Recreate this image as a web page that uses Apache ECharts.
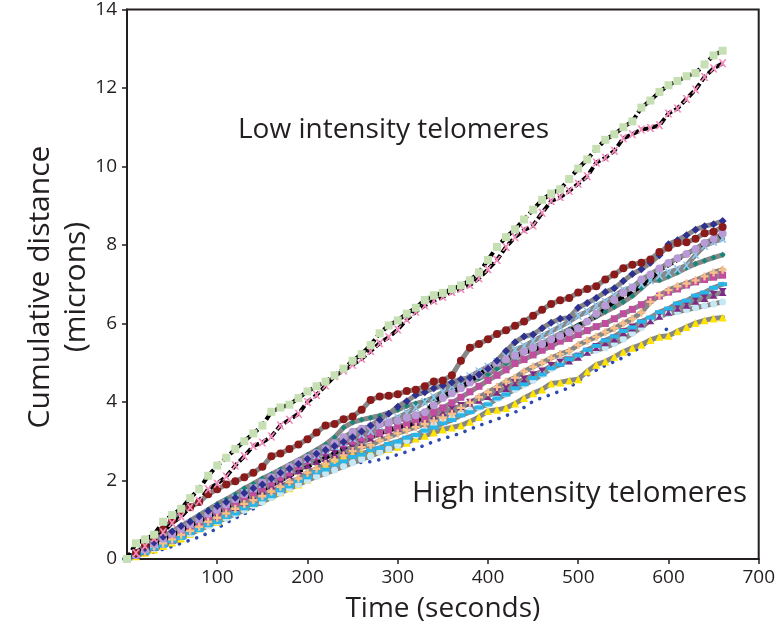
<!DOCTYPE html>
<html>
<head>
<meta charset="utf-8">
<script src="https://cdn.jsdelivr.net/npm/echarts@6/dist/echarts.min.js"></script>
<style>
html,body{margin:0;padding:0;background:#fff;}
#chart{width:778px;height:636px;}
</style>
</head>
<body>
<div id="chart"></div>
<script>
// Time points (seconds)
const times = [0,10,20,30,40,50,60,70,80,90,100,110,120,130,140,150,160,170,180,190,200,210,220,230,240,250,260,270,280,290,300,310,320,330,340,350,360,370,380,390,400,410,420,430,440,450,460,470,480,490,500,510,520,530,540,550,560,570,580,590,600,610,620,630,640,650,660];

// Low intensity telomeres
const lowGreen = [0,0.4,0.5,0.62,0.95,1.12,1.28,1.55,1.78,2.12,2.38,2.58,2.8,3.0,3.2,3.4,3.75,3.86,3.93,4.1,4.27,4.4,4.52,4.68,4.85,5.05,5.22,5.45,5.75,5.95,6.08,6.25,6.4,6.6,6.72,6.78,6.88,6.97,7.1,7.3,7.62,7.95,8.2,8.4,8.65,8.9,9.15,9.31,9.42,9.68,9.95,10.18,10.45,10.68,10.82,11.0,11.15,11.5,11.68,11.9,12.07,12.18,12.3,12.38,12.6,12.83,12.95];
const lowPink = [0,0.15,0.33,0.52,0.68,0.92,1.08,1.32,1.48,1.78,1.92,2.1,2.38,2.62,2.88,2.97,3.12,3.4,3.55,3.7,4.0,4.18,4.42,4.66,4.8,4.95,5.1,5.3,5.5,5.65,5.85,6.1,6.3,6.46,6.58,6.68,6.8,6.88,6.98,7.15,7.38,7.62,7.95,8.2,8.38,8.5,8.82,9.12,9.22,9.38,9.56,9.75,10.1,10.22,10.4,10.72,10.82,10.94,10.98,11.05,11.35,11.48,11.72,11.96,12.28,12.5,12.63];

// High intensity telomeres
const hiRed = [0,0.15,0.35,0.55,0.75,0.98,1.22,1.32,1.45,1.65,1.78,1.9,1.98,2.08,2.2,2.35,2.62,2.69,2.8,2.92,3.05,3.22,3.4,3.44,3.56,3.63,3.8,4.05,4.14,4.16,4.2,4.28,4.31,4.4,4.52,4.55,4.68,5.05,5.38,5.48,5.6,5.73,5.83,5.94,6.05,6.2,6.35,6.5,6.59,6.65,6.79,6.88,6.95,7.12,7.25,7.41,7.5,7.55,7.63,7.82,7.93,8.05,8.07,8.16,8.3,8.34,8.46];
const hiNavy = [0,0.12,0.28,0.42,0.57,0.7,0.84,0.95,1.08,1.22,1.35,1.45,1.56,1.68,1.8,1.9,2.05,2.2,2.3,2.42,2.55,2.68,2.78,2.88,2.98,3.1,3.25,3.4,3.55,3.7,3.88,4.02,4.18,4.25,4.35,4.42,4.5,4.58,4.62,4.7,4.85,5.05,5.3,5.52,5.67,5.72,5.88,6.02,6.12,6.15,6.4,6.52,6.65,6.8,6.9,7.08,7.26,7.38,7.55,7.74,8.02,8.12,8.25,8.39,8.48,8.53,8.61];
const hiLilac = [0,0.1,0.25,0.38,0.52,0.65,0.78,0.9,1.02,1.15,1.25,1.38,1.52,1.65,1.8,1.95,2.08,2.2,2.35,2.48,2.58,2.7,2.82,2.95,3.1,3.24,3.32,3.38,3.44,3.48,3.52,3.6,3.66,3.74,3.92,4.1,4.22,4.35,4.5,4.68,4.85,5.0,5.08,5.18,5.28,5.38,5.48,5.6,5.68,5.78,5.88,6.05,6.25,6.45,6.6,6.78,6.92,7.12,7.25,7.4,7.54,7.66,7.77,7.9,8.05,8.15,8.29];
const hiBlack = [0,0.1,0.22,0.35,0.48,0.6,0.72,0.85,0.96,1.08,1.2,1.32,1.42,1.55,1.65,1.75,1.88,2.0,2.12,2.22,2.35,2.45,2.58,2.7,2.82,2.95,3.05,3.12,3.2,3.28,3.35,3.4,3.45,3.72,4.0,4.15,4.25,4.38,4.52,4.7,4.85,5.0,5.1,5.18,5.25,5.32,5.42,5.52,5.64,5.8,5.96,6.08,6.17,6.38,6.55,6.68,6.8,6.95,7.12,7.36,7.48,7.62,7.76,7.9,8.02,8.13,8.25];
const hiSkyX = [0,0.12,0.25,0.38,0.52,0.65,0.78,0.9,1.02,1.18,1.3,1.42,1.55,1.68,1.8,1.92,2.05,2.18,2.3,2.45,2.55,2.65,2.78,2.88,2.98,3.08,3.18,3.26,3.4,3.5,3.6,3.72,3.86,4.0,4.12,4.25,4.4,4.52,4.65,4.78,4.9,5.02,5.15,5.33,5.42,5.55,5.68,5.8,5.92,6.05,6.2,6.3,6.45,6.55,6.7,6.85,6.92,7.0,7.1,7.22,7.3,7.38,7.48,7.75,7.98,8.08,8.16];
const hiTeal = [0,0.14,0.28,0.42,0.56,0.7,0.84,0.98,1.12,1.26,1.4,1.52,1.65,1.8,1.92,2.05,2.16,2.28,2.4,2.52,2.65,2.78,2.92,3.1,3.35,3.48,3.55,3.6,3.65,3.72,3.8,3.9,3.96,4.02,4.1,4.2,4.3,4.4,4.5,4.6,4.7,4.85,4.98,5.12,5.26,5.4,5.5,5.62,5.74,5.85,5.95,6.05,6.18,6.3,6.42,6.55,6.7,6.9,7.1,7.1,7.2,7.3,7.42,7.52,7.6,7.68,7.75];
const hiPeach = [0,0.1,0.2,0.32,0.4,0.5,0.62,0.72,0.82,0.95,1.05,1.16,1.28,1.4,1.5,1.6,1.72,1.84,1.96,2.05,2.2,2.3,2.42,2.52,2.64,2.75,2.85,2.9,3.02,3.1,3.2,3.28,3.36,3.44,3.52,3.6,3.7,3.85,3.98,4.12,4.25,4.38,4.52,4.62,4.78,4.9,5.0,5.12,5.22,5.3,5.45,5.56,5.66,5.78,5.88,6.0,6.12,6.28,6.55,6.72,6.85,6.95,7.02,7.1,7.2,7.3,7.37];
const hiMagenta = [0,0.12,0.24,0.38,0.48,0.6,0.72,0.84,0.93,1.08,1.2,1.32,1.44,1.58,1.68,1.8,1.94,2.08,2.2,2.36,2.5,2.62,2.75,2.88,2.94,3.0,3.08,3.16,3.22,3.28,3.35,3.44,3.54,3.6,3.74,3.85,3.98,4.12,4.26,4.4,4.55,4.68,4.82,4.98,5.08,5.2,5.32,5.42,5.55,5.62,5.72,5.82,5.92,6.0,6.12,6.25,6.36,6.48,6.6,6.7,6.8,6.88,6.98,7.06,7.12,7.18,7.23];
const hiCyan = [0,0.09,0.16,0.27,0.35,0.46,0.54,0.66,0.74,0.86,0.94,1.07,1.16,1.29,1.38,1.52,1.6,1.75,1.85,1.99,2.08,2.21,2.28,2.41,2.49,2.6,2.66,2.77,2.83,2.93,2.99,3.09,3.16,3.27,3.35,3.46,3.54,3.66,3.74,3.86,3.94,4.09,4.19,4.35,4.45,4.61,4.7,4.86,4.95,5.09,5.19,5.33,5.43,5.57,5.67,5.81,5.9,6.05,6.15,6.29,6.38,6.51,6.58,6.71,6.79,6.91,7.0];
const hiPurple = [0,0.1,0.2,0.31,0.4,0.5,0.62,0.72,0.84,0.94,1.05,1.2,1.32,1.46,1.6,1.75,1.88,2.0,2.14,2.26,2.4,2.5,2.58,2.68,2.76,2.85,2.96,3.08,3.2,3.28,3.35,3.44,3.5,3.58,3.66,3.75,3.82,3.9,3.98,4.06,4.15,4.26,4.35,4.48,4.58,4.68,4.78,4.92,5.0,5.06,5.15,5.28,5.4,5.52,5.62,5.78,5.9,6.0,6.08,6.2,6.3,6.4,6.48,6.58,6.65,6.73,6.8];
const hiPale = [0,0.08,0.18,0.26,0.36,0.45,0.56,0.64,0.75,0.84,0.95,1.04,1.15,1.24,1.36,1.45,1.57,1.68,1.8,1.9,2.0,2.1,2.18,2.27,2.36,2.45,2.54,2.62,2.72,2.8,2.9,3.02,3.15,3.28,3.42,3.52,3.6,3.7,3.78,3.86,3.95,4.08,4.2,4.32,4.44,4.55,4.7,4.85,5.05,5.15,5.2,5.26,5.32,5.38,5.49,5.6,5.75,5.9,6.08,6.18,6.25,6.3,6.35,6.4,6.45,6.5,6.55];
const hiYellow = [0,0.07,0.16,0.24,0.33,0.42,0.52,0.64,0.78,0.88,0.95,1.08,1.2,1.3,1.4,1.5,1.6,1.7,1.8,1.9,2.02,2.18,2.4,2.55,2.62,2.66,2.69,2.72,2.76,2.8,2.86,2.96,3.07,3.14,3.22,3.3,3.35,3.4,3.5,3.62,3.77,3.8,3.85,3.96,4.1,4.22,4.32,4.47,4.5,4.55,4.58,4.78,4.95,5.03,5.15,5.28,5.38,5.46,5.58,5.66,5.69,5.8,5.91,6.01,6.08,6.13,6.15];
const hiBlueDot = [0,0.05,0.12,0.18,0.25,0.32,0.4,0.48,0.56,0.66,0.78,0.92,1.04,1.15,1.28,1.42,1.56,1.7,1.82,1.92,2.03,2.13,2.24,2.33,2.42,2.45,2.46,2.48,2.53,2.58,2.66,2.73,2.81,2.9,2.99,3.07,3.13,3.21,3.3,3.4,3.48,3.56,3.65,3.74,3.86,4.02,4.11,4.19,4.28,4.36,4.54,4.68,4.81,4.93,5.03,5.13,5.26,5.42,5.55,5.66,5.91,null,null,null,null,null,null];

// Axis ticks
const xTicks = [0,100,200,300,400,500,600,700];
const yTicks = [0,2,4,6,8,10,12,14];

const FONT = 'Open Sans';
const TXT = '#231f20';
const GRAY = '#878787';
const X_SYM = 'path://M0,0L2.5,0L5,3.2L7.5,0L10,0L6.4,5L10,10L7.5,10L5,6.8L2.5,10L0,10L3.6,5Z';
const PLUS_SYM = 'path://M3.5,0H6.5V3.5H10V6.5H6.5V10H3.5V6.5H0V3.5H3.5Z';
const HOUR_SYM = 'path://M0,0H10L6.2,5L10,10H0L3.8,5Z';
const DASH_SYM = 'path://M0,0H10V4H0Z';

function pairs(arr){ return times.map((t,i)=>[t, arr[i]]); }

function hiSeries(name, arr, color, symbol, size){
  return {
    name, type:'line', data: pairs(arr),
    lineStyle:{color:GRAY, width:5, cap:'round', join:'round'},
    itemStyle:{color:color},
    symbol, symbolSize:size, showSymbol:true, showAllSymbol:true,
    connectNulls:false, silent:true
  };
}
function lowSeries(name, arr, color, symbol, size){
  return {
    name, type:'line', data: pairs(arr),
    lineStyle:{color:'#000', width:4, type:[7,3]},
    itemStyle:{color:color},
    symbol, symbolSize:size, showSymbol:true, showAllSymbol:true, silent:true
  };
}

const series = [
  {
    name:'Blue dotted', type:'line', data: pairs(hiBlueDot),
    lineStyle:{color:'#2b4ab0', width:3.5, type:[0.1,9], cap:'round'},
    symbol:'none', connectNulls:false, silent:true
  },
  hiSeries('Yellow', hiYellow, '#ffe300', 'triangle', 8),
  hiSeries('Pale blue', hiPale, '#c6e7f3', 'circle', 7),
  hiSeries('Purple', hiPurple, '#7b2a85', HOUR_SYM, 8),
  hiSeries('Cyan', hiCyan, '#29b5e8', DASH_SYM, [9,4]),
  hiSeries('Magenta', hiMagenta, '#c04d9e', 'rect', 7),
  hiSeries('Peach', hiPeach, '#f9bf88', PLUS_SYM, 8),
  hiSeries('Teal', hiTeal, '#17877a', 'diamond', 6),
  hiSeries('Sky', hiSkyX, '#8fc6ee', X_SYM, 8),
  hiSeries('Lilac', hiLilac, '#b79ad6', 'circle', 8),
  hiSeries('Navy', hiNavy, '#2e3192', 'diamond', 8),
  {
    name:'Black', type:'line', data: pairs(hiBlack),
    lineStyle:{color:'#000', width:4, type:[7,3]},
    symbol:'none', silent:true
  },
  hiSeries('Dark red', hiRed, '#8b1a1a', 'circle', 8),
  lowSeries('Low pink', lowPink, '#f38cbc', X_SYM, 8),
  lowSeries('Low green', lowGreen, '#c6e0b4', 'rect', 8)
];

const chart = echarts.init(document.getElementById('chart'), null, {renderer:'canvas'});
chart.setOption({
  animation:false,
  backgroundColor:'#fff',
  grid:{left:127, right:11, top:9, bottom:77, show:true, borderColor:TXT, borderWidth:2, containLabel:false},
  xAxis:{
    type:'value', min:xTicks[0], max:xTicks[xTicks.length-1], interval:100,
    name:'Time (seconds)', nameLocation:'middle', nameGap:36,
    nameTextStyle:{fontFamily:FONT, fontSize:28, color:TXT},
    axisLine:{show:true, lineStyle:{color:TXT, width:2}},
    axisTick:{show:true, inside:false, length:5, lineStyle:{color:TXT, width:1.5}},
    axisLabel:{fontFamily:FONT, fontSize:19, color:TXT, margin:9, showMinLabel:false,
      formatter:(v)=> xTicks.includes(v) ? String(v) : ''},
    splitLine:{show:false}
  },
  yAxis:{
    type:'value', min:yTicks[0], max:yTicks[yTicks.length-1], interval:2,
    axisLine:{show:true, lineStyle:{color:TXT, width:2}},
    axisTick:{show:true, inside:false, length:5, lineStyle:{color:TXT, width:1.5}},
    axisLabel:{fontFamily:FONT, fontSize:19, color:TXT, margin:10,
      formatter:(v)=> yTicks.includes(v) ? String(v) : ''},
    splitLine:{show:false}
  },
  graphic:[
    {type:'text', x:58, y:287, rotation:Math.PI/2,
      style:{text:'Cumulative distance\n(microns)', font:'30px "Open Sans"', fill:TXT, align:'center', verticalAlign:'middle', lineHeight:36}},
    {type:'text', x:238, y:130,
      style:{text:'Low intensity telomeres', font:'28px "Open Sans"', fill:TXT, align:'left', verticalAlign:'middle'}},
    {type:'text', x:412, y:494,
      style:{text:'High intensity telomeres', font:'29.5px "Open Sans"', fill:TXT, align:'left', verticalAlign:'middle'}}
  ],
  series
});
</script>
</body>
</html>
